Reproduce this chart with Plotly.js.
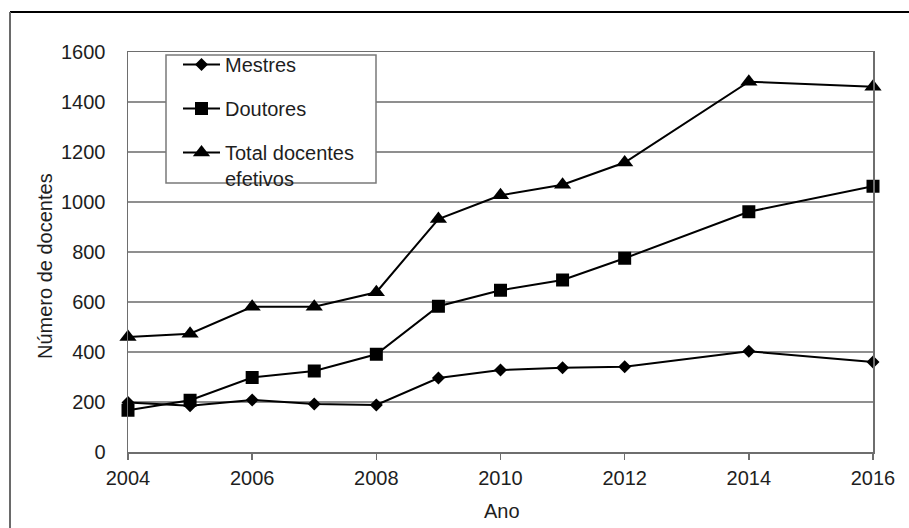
<!DOCTYPE html>
<html>
<head>
<meta charset="utf-8">
<script src="https://cdn.plot.ly/plotly-3.0.1.min.js"></script>
<style>
  html, body { margin: 0; padding: 0; background: #ffffff; }
  #chart { width: 909px; height: 528px; }
</style>
</head>
<body>
<div id="chart"></div>
<script>
// Anos observados e número de docentes por titulação
const anos = [2004, 2005, 2006, 2007, 2008, 2009, 2010, 2011, 2012, 2014, 2016];
const mestres = [198, 185, 208, 192, 188, 296, 328, 337, 341, 403, 360];
const doutores = [167, 207, 298, 324, 391, 583, 647, 688, 775, 961, 1063];
const totalEfetivos = [460, 473, 581, 581, 639, 932, 1027, 1069, 1158, 1481, 1461];

const nomes = ['Mestres', 'Doutores', 'Total docentes<br>efetivos'];
const anosTicks = [2004, 2006, 2008, 2010, 2012, 2014, 2016];
const yTicks = [0, 200, 400, 600, 800, 1000, 1200, 1400, 1600];

const FONT = 'Liberation Sans, Arial, sans-serif';
const TXT = '#1e1e1e';
const GRID = '#8f8f8f';

function serie(y, nome, simbolo, tamanho, grupo) {
  return {
    x: anos, y: y, name: nome, type: 'scatter', mode: 'lines+markers',
    legendgroup: grupo, cliponaxis: false,
    line: { color: '#000000', width: 2 },
    marker: { symbol: simbolo, size: tamanho, color: '#000000' }
  };
}

const data = [
  serie(mestres, nomes[0], 'diamond', 10, 'g1'),
  serie(doutores, nomes[1], 'square', 13, 'g2'),
  serie(totalEfetivos, nomes[2], 'triangle-up', 15, 'g3')
];

// plot area spans 128..873 px horizontally and 52..452 px vertically
const L = 128, R = 873, T = 52, B = 452;
const px = v => (v - L) / (R - L);
const py = v => (B - v) / (B - T);

const layout = {
  width: 909, height: 528,
  margin: { l: L, r: 909 - R, t: T, b: 528 - B, pad: 0 },
  paper_bgcolor: '#ffffff', plot_bgcolor: '#ffffff',
  font: { family: FONT, size: 20, color: TXT },
  showlegend: true,
  legend: {
    x: px(178), y: py(45), xanchor: 'left', yanchor: 'top',
    bgcolor: 'rgba(0,0,0,0)', borderwidth: 0,
    traceorder: 'grouped', tracegroupgap: 15, valign: 'top',
    itemwidth: 37,
    font: { family: FONT, size: 20, color: TXT }
  },
  xaxis: {
    range: [2004, 2016], tickvals: anosTicks, ticktext: anosTicks.map(String),
    showgrid: false, zeroline: false,
    showline: true, linecolor: '#6e6e6e', linewidth: 1.5, mirror: true,
    ticks: 'outside', ticklen: 6, tickwidth: 1.5, tickcolor: '#6e6e6e',
    ticklabelstandoff: 1,
    tickfont: { family: FONT, size: 20, color: TXT }
  },
  yaxis: {
    range: [0, 1600], tickvals: yTicks, ticktext: yTicks.map(String),
    showgrid: true, gridcolor: GRID, gridwidth: 1.5, zeroline: false,
    showline: true, linecolor: '#6e6e6e', linewidth: 1.5, mirror: true,
    ticks: '', ticklabelstandoff: 17,
    tickfont: { family: FONT, size: 20, color: TXT }
  },
  shapes: [
    // legend frame
    { type: 'rect', xref: 'paper', yref: 'paper', layer: 'above',
      x0: px(166), x1: px(376), y0: py(183), y1: py(55),
      fillcolor: '#ffffff', line: { color: '#7a7a7a', width: 1.5 } },
    // figure frame: top and left edges
    { type: 'line', xref: 'paper', yref: 'paper',
      x0: px(10), x1: px(909), y0: py(12), y1: py(12),
      line: { color: '#000000', width: 2 } },
    { type: 'line', xref: 'paper', yref: 'paper',
      x0: px(10), x1: px(10), y0: py(12), y1: py(528),
      line: { color: '#6a6a6a', width: 2 } }
  ],
  annotations: [
    { text: 'Número de docentes', xref: 'paper', yref: 'paper',
      x: px(45), y: py(266), xanchor: 'center', yanchor: 'middle',
      textangle: -90, showarrow: false,
      font: { family: FONT, size: 20, color: TXT } },
    { text: 'Ano', xref: 'paper', yref: 'paper',
      x: px(502), y: py(511), xanchor: 'center', yanchor: 'middle',
      showarrow: false,
      font: { family: FONT, size: 20, color: TXT } }
  ]
};

Plotly.newPlot('chart', data, layout, { displayModeBar: false, staticPlot: true });
</script>
</body>
</html>
